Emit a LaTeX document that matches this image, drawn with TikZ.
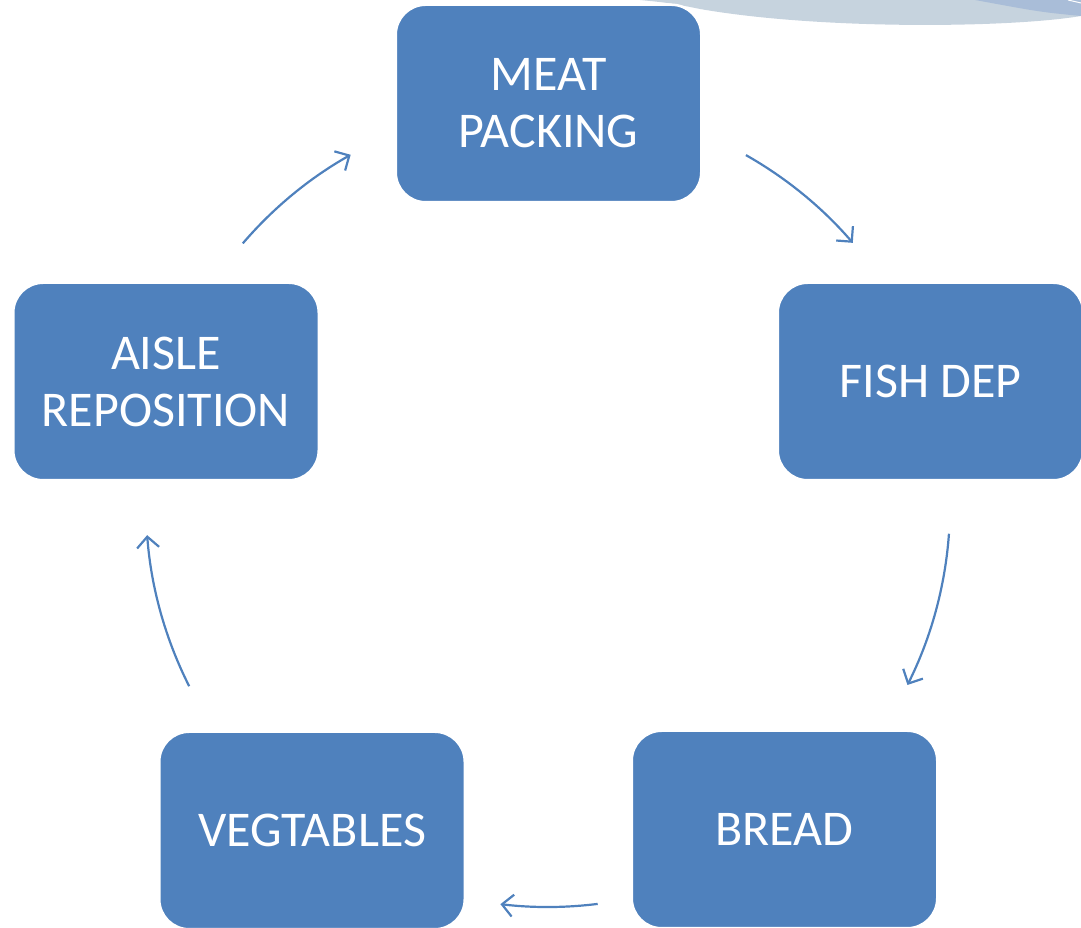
\documentclass[tikz,border=0pt]{standalone}
\usepackage{fontspec}
\setmainfont{Carlito}
\usetikzlibrary{arrows.meta}
\definecolor{boxblue}{HTML}{4F81BD}
\definecolor{decolight}{HTML}{C6D3DE}
\definecolor{decodark}{HTML}{A9BDD8}
\tikzset{
  stepbox/.style={rectangle, rounded corners=30pt, fill=boxblue, draw=white, line width=2.5pt,
    minimum width=305.5pt, minimum height=197.5pt, inner sep=0pt, outer sep=0pt,
    text=white, align=center, font=\fontsize{50}{57}\selectfont},
  conn/.style={draw=boxblue, line width=2.2pt, -{Straight Barb[length=11pt,width=22pt,line width=2.2pt]}}
}
\begin{document}
\begin{tikzpicture}[x=1pt,y=1pt]
\useasboundingbox (0,0) rectangle (1081,928);
% decoration at top right
\fill[decolight] (640,928) -- (1081,928) -- (1081,912) .. controls (1010,900) and (820,898) .. (700,919) .. controls (670,925) .. (640,928) -- cycle;
\fill[decodark] (975,928) -- (1081,928) -- (1081,912) .. controls (1040,916) .. (975,928) -- cycle;
\draw[white, line width=1pt] (1068,928) -- (1081,925);
% nodes
\node[stepbox] (meat) at (548.5,824.5) {MEAT\\PACKING};
\node[stepbox] (fish) at (930.5,546.5) {FISH DEP};
\node[stepbox] (bread) at (784.5,98.5) {BREAD};
\node[stepbox] (veg) at (312,97.5) {VEGTABLES};
\node[stepbox] (aisle) at (166,546.5) {AISLE\\REPOSITION};
% cycle centre
\coordinate (c) at (548,423);
\coordinate (a1) at ([shift={(139.4:402pt)}]c);
\coordinate (a2) at ([shift={(60.5:402pt)}]c);
\coordinate (a3) at ([shift={(-4.1:402pt)}]c);
\coordinate (a4) at ([shift={(-82.9:402pt)}]c);
\coordinate (a5) at ([shift={(206.8:402pt)}]c);
\draw[conn] (a1) arc[start angle=139.4, end angle=119.4, radius=402pt];
\draw[conn] (a2) arc[start angle=60.5, end angle=40.7, radius=402pt];
\draw[conn] (a3) arc[start angle=-4.1, end angle=-26.6, radius=402pt];
\draw[conn] (a4) arc[start angle=-82.9, end angle=-96.8, radius=402pt];
\draw[conn] (a5) arc[start angle=206.8, end angle=184.3, radius=402pt];
\end{tikzpicture}
\end{document}
